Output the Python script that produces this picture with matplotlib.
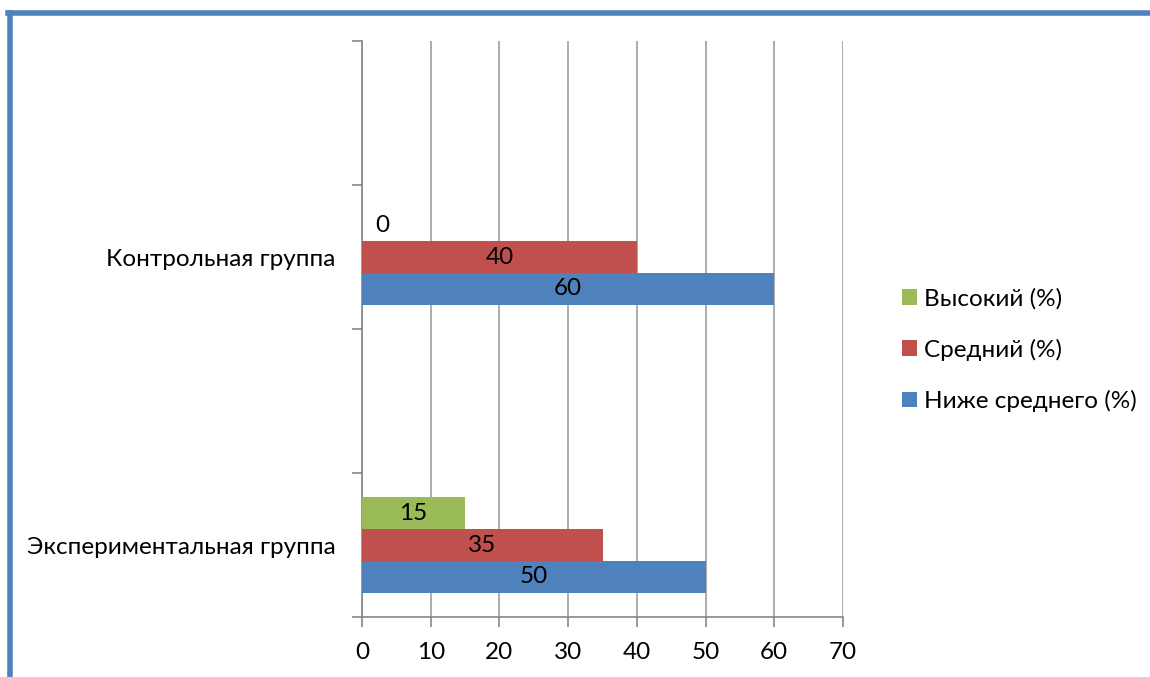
import matplotlib.pyplot as plt
from matplotlib.lines import Line2D
from matplotlib.patches import Patch

plt.rcParams['font.family'] = ['Lato', 'DejaVu Sans']

# data
groups = ['Экспериментальная группа', '', 'Контрольная группа', '']
series = ['Ниже среднего (%)', 'Средний (%)', 'Высокий (%)']
below_avg = [50, 0, 60, 0]
average = [35, 0, 40, 0]
high = [15, None, 0, None]
colors = ['#4F81BD', '#C0504D', '#9BBB59']

fs = 17.5

fig = plt.figure(figsize=(11.5, 6.77), dpi=100)
ax = fig.add_axes([362 / 1150, 1 - 617 / 677, (843 - 362) / 1150, (617 - 41) / 677])

h = 0.222
values = [below_avg, average, high]
for k, (vals, col) in enumerate(zip(values, colors)):
    off = (k - 1) * h
    for i, v in enumerate(vals):
        if v is None or groups[i] == '':
            continue
        ax.barh(i + off, v, height=h, color=col, zorder=3)
        if v == 0:
            ax.text(3, i + off, '0', ha='center', va='center', fontsize=fs, zorder=4)
        else:
            ax.text(v / 2, i + off, str(v), ha='center', va='center', fontsize=fs, zorder=4)

ax.set_xlim(0, 70)
ax.set_ylim(-0.5, len(groups) - 0.5)
ax.set_xticks(range(0, 71, 10))
ax.set_yticks(range(len(groups)))
ax.set_yticklabels(groups)
ax.set_yticks([i - 0.5 for i in range(len(groups) + 1)], minor=True)
ax.tick_params(axis='y', which='major', length=0, pad=19, labelsize=fs)
ax.tick_params(axis='y', which='minor', length=7, color='#868686', width=1.2)
ax.tick_params(axis='x', length=7, color='#868686', width=1.2, pad=11, labelsize=fs)

ax.grid(axis='x', color='#A6A6A6', linewidth=1.3, zorder=0)
for s in ['top', 'right']:
    ax.spines[s].set_visible(False)
for s in ['left', 'bottom']:
    ax.spines[s].set_color('#868686')
    ax.spines[s].set_linewidth(1.2)

handles = [Patch(facecolor=colors[k], label=series[k]) for k in [2, 1, 0]]
fig.legend(handles=handles, loc='center left', bbox_to_anchor=(880 / 1150, 1 - 350 / 677),
           frameon=False, fontsize=fs, handlelength=0.62, handleheight=0.62,
           handletextpad=0.3, labelspacing=1.2)

# blue outer frame
fig.add_artist(Line2D([9.5 / 1150, 9.5 / 1150], [0, 1 - 12.5 / 677], color='#4F81BD', linewidth=4, transform=fig.transFigure))
fig.add_artist(Line2D([7.5 / 1150, 1], [1 - 12.5 / 677, 1 - 12.5 / 677], color='#4F81BD', linewidth=4, transform=fig.transFigure))

fig.savefig('out.png', dpi=100)
